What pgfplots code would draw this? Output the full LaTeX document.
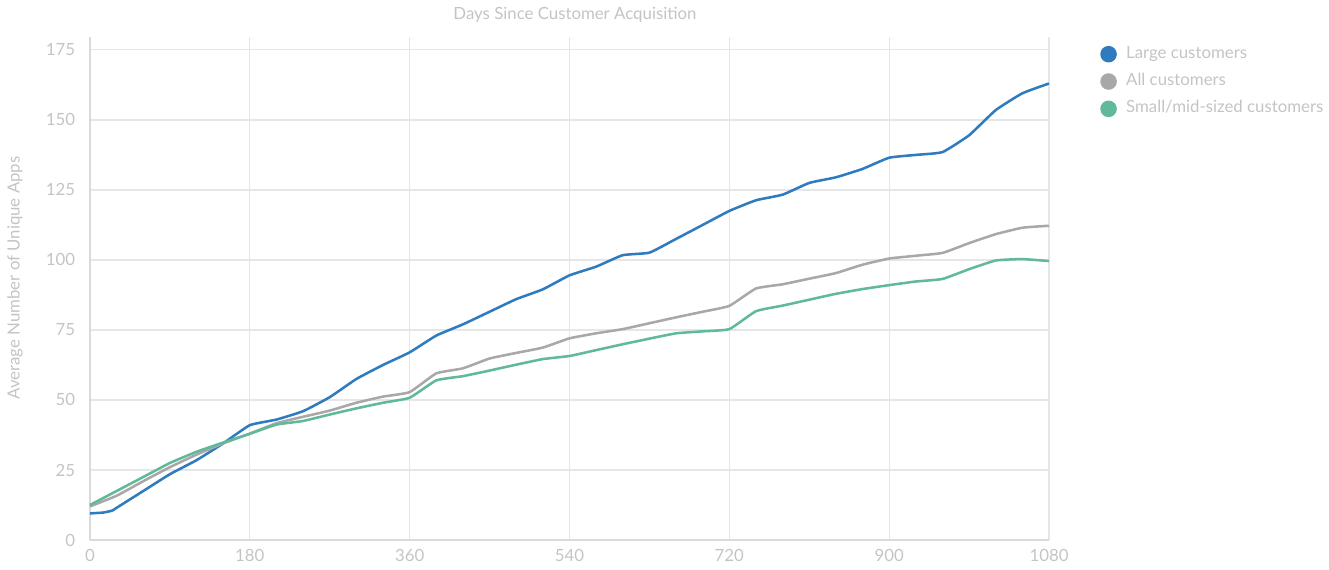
\documentclass[border=0pt]{standalone}
\usepackage{fontspec}
\setmainfont{Lato}
\usepackage{pgfplots}
\usepackage{pgfplotstable}
\pgfplotsset{compat=1.18}
\definecolor{cblue}{HTML}{2E7BBF}
\definecolor{cgray}{HTML}{A8A8A8}
\definecolor{cgreen}{HTML}{5FB99A}
\definecolor{txt}{HTML}{C4C4C4}
\definecolor{gridc}{HTML}{E6E6E6}
\definecolor{axc}{HTML}{DADADA}
\newcommand{\chfont}{\fontsize{12.6}{14}\selectfont}
\pgfplotstableread{
x y
0 9.5
15 9.8
25 10.5
30 11.5
60 17.5
90 23.5
120 28.5
150 34.5
180 41
210 43
240 46
270 51
300 57.5
330 62.5
360 67
390 73
420 77
450 81.5
480 86
510 89.5
540 94.5
570 97.6
600 101.7
630 102.6
660 107.5
690 112.5
720 117.5
750 121.3
780 123.3
810 127.5
840 129.5
870 132.5
900 136.5
930 137.5
960 138.5
990 144.5
1020 153.5
1050 159.5
1080 163
}\large
\pgfplotstableread{
x y
0 12
30 15.8
60 21
90 26
120 30.5
150 34.5
180 38
210 41.7
240 44
270 46.2
300 49
330 51.2
360 52.8
390 59.5
420 61.3
450 64.8
480 66.8
510 68.7
540 72
570 73.8
600 75.3
630 77.4
660 79.5
690 81.5
720 83.6
750 89.8
780 91.3
810 93.3
840 95.3
870 98.3
900 100.5
930 101.5
960 102.5
990 106
1020 109.2
1050 111.5
1080 112.2
}\allc
\pgfplotstableread{
x y
0 12.5
30 17.5
60 22.5
90 27.5
120 31.5
150 34.8
180 37.9
210 41.2
240 42.5
270 44.8
300 47
330 49
360 50.8
390 57
420 58.5
450 60.5
480 62.6
510 64.6
540 65.7
570 67.8
600 69.9
630 71.9
660 73.8
690 74.5
720 75.3
750 81.7
780 83.7
810 85.8
840 87.9
870 89.6
900 91
930 92.3
960 93.2
990 96.7
1020 99.8
1050 100.3
1080 99.6
}\small
\begin{document}
\begin{tikzpicture}
\useasboundingbox (-67.5pt,-21.75pt) rectangle (929.25pt,405pt);
\begin{axis}[
  scale only axis, width=719.25pt, height=377.25pt,
  xmin=0, xmax=1080, ymin=0, ymax=179.6,
  xtick={0,180,...,1080}, ytick={0,25,...,175},
  grid=major, major grid style={gridc, line width=0.9pt},
  axis x line*=bottom, axis y line*=left,
  axis line style={axc, line width=2pt},
  major tick length=0pt,
  /pgf/number format/assume math mode=true,
  /pgf/number format/1000 sep={},
  ticklabel style={font=\chfont, text=txt},
  yticklabel style={anchor=east, inner sep=0pt, xshift=-11pt},
  xticklabel style={anchor=north, inner sep=0pt, yshift=-7pt},
  legend style={at={(1.0532,0.9115)}, anchor=west, draw=none, fill=none,
    font=\chfont, text=txt, row sep=8.1pt, inner sep=0pt,
    nodes={inner sep=0pt, anchor=west, text height=8.5pt, text depth=2.5pt},
    /tikz/every odd column/.style={column sep=7pt}},
  legend cell align=left,
  legend image code/.code={\fill[#1] (0pt,0pt) circle (5.25pt);},
  every axis plot/.append style={line width=1.9pt, line join=round, smooth, tension=0.25},
  clip=false,
]
\addplot[cblue] table {\large};
\addlegendentry{Large customers}
\addplot[cgray] table {\allc};
\addlegendentry{All customers}
\addplot[cgreen] table {\small};
\addlegendentry{Small/mid-sized customers}
\end{axis}
\node[text=txt, font=\chfont] at (363.75pt,393.75pt) {Days Since Customer Acquisition};
\node[text=txt, font=\chfont, rotate=90] at (-56.25pt,196.5pt) {Average Number of Unique Apps};
\end{tikzpicture}
\end{document}
